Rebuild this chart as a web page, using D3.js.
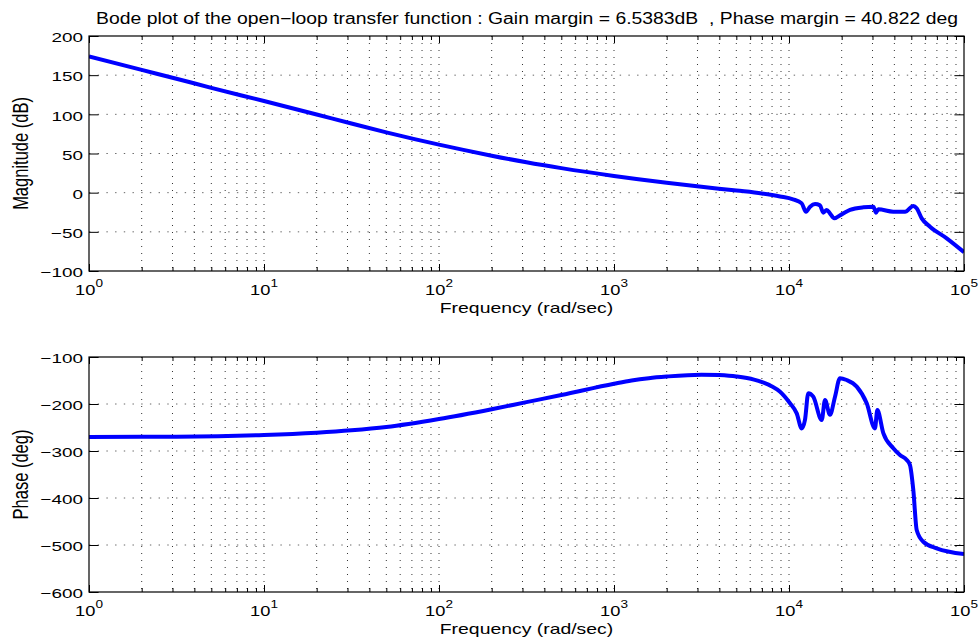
<!DOCTYPE html>
<html>
<head>
<meta charset="utf-8">
<script src="https://cdn.jsdelivr.net/npm/d3@7"></script>
<style>
  body { margin: 0; background: #fff; }
  svg { display: block; font-family: "Liberation Sans", Arial, Helvetica, sans-serif; }
  text { white-space: pre; fill: #000; }
</style>
</head>
<body>
<svg id="chart" width="980" height="642"></svg>
<script>
// frequency grid (rad/sec) and values
const magFreq = [1, 2, 3.16, 5, 10, 20, 31.6, 50, 100, 200, 316, 500, 1000, 2000, 3160,
  5010, 7000, 8890, 10540, 11820, 12510, 13200, 14080, 15030, 15700, 16420, 17130, 18140,
  20000, 22320, 26610, 30350, 31430, 32380, 39440, 46030, 51330, 53660, 57330, 63940,
  79640, 100000];
const magDb = [174, 156.7, 145.5, 133.8, 117, 99.8, 88.3, 77, 61.3, 47.2, 38.8, 31.3, 21.3,
  12.6, 7.5, 2.7, -1, -4.8, -8.5, -13.7, -24.4, -18, -14.6, -16.2, -25.6, -22, -26.4,
  -32.8, -27.7, -22, -18.7, -18, -25.6, -21.3, -24.4, -24.4, -17, -20, -32.8, -43.5,
  -58.3, -76];

const phaseFreq = [1, 3.16, 10, 20, 31.6, 50, 100, 200, 316, 500, 1000, 1260, 1580, 2000,
  3160, 3980, 5010, 6310, 7080, 7940, 8890, 10130, 11070, 11820, 12340, 12890, 13760, 15380,
  16060, 17140, 18320, 19550, 21360, 24380, 27800, 30990, 31970, 34590, 39440, 43060,
  47080, 49130, 51330, 53660, 58510, 69790, 100000];
const phaseDeg = [-270, -269.5, -266, -261, -256, -249, -232, -211, -196, -181, -157,
  -150, -145, -141.5, -137.5, -138.5, -141.5, -148, -154, -162, -174, -198.5, -220, -252,
  -234, -177, -184.5, -234, -191.5, -223, -184.5, -145, -149, -163, -198.5, -252, -213,
  -262, -294, -308.5, -319, -330, -383, -468, -493, -507, -519];

const freqTicks = [1, 10, 100, 1000, 10000, 100000];
const magTicks = [-100, -50, 0, 50, 100, 150, 200];
const phaseTicks = [-600, -500, -400, -300, -200, -100];

const titleText = "Bode plot of the open\u2212loop transfer function : Gain margin = 6.5383dB  , Phase margin = 40.822 deg";
const xLabelText = "Frequency (rad/sec)";

// the source figure was stretched sideways, so text is widened to match
const SX = 1.4;

/** One of the two stacked Bode axes. */
class BodePanel {
    constructor(svg, id, top, bottom, yDomain, yTicks, yLabel) {
        this.id = id;
        this.top = top;
        this.bottom = bottom;
        this.yTicks = yTicks;
        this.yLabel = yLabel;
        this.x = d3.scaleLog().domain([1, 1e5]).range([89, 964]);
        this.y = d3.scaleLinear().domain(yDomain).range([bottom, top]);
        this.g = svg.append("g");
    }

    drawGrid() {
        const x = this.x, y = this.y;
        const inner = x.ticks().filter(d => d > 1 && d < 1e5);

        this.g.append("g").selectAll("line")
            .data(inner)
            .join("line")
            .attr("x1", d => x(d)).attr("x2", d => x(d))
            .attr("y1", this.top).attr("y2", this.bottom)
            .attr("stroke", "#333")
            .attr("stroke-dasharray", "1,6");

        this.g.append("g").selectAll("line")
            .data(this.yTicks.slice(1, -1))
            .join("line")
            .attr("x1", x.range()[0]).attr("x2", x.range()[1])
            .attr("y1", d => y(d)).attr("y2", d => y(d))
            .attr("stroke", "#666")
            .attr("stroke-dasharray", "1.4,7.3");
    }

    drawAxes() {
        const x = this.x, y = this.y;
        const minor = x.ticks().filter(d => !freqTicks.includes(d));
        const noDomain = g => g.select(".domain").remove();

        // inward ticks on all four sides
        [[d3.axisBottom, this.bottom], [d3.axisTop, this.top]].forEach(([ax, pos]) => {
            this.g.append("g").attr("transform", `translate(0,${pos})`)
                .call(ax(x).tickValues(minor).tickSize(-4).tickFormat("")).call(noDomain);
            this.g.append("g").attr("transform", `translate(0,${pos})`)
                .call(ax(x).tickValues(freqTicks).tickSize(-7).tickFormat("")).call(noDomain);
        });

        this.g.append("g").attr("transform", `translate(${x.range()[1]},0)`)
            .call(d3.axisRight(y).tickValues(this.yTicks).tickSize(-9.6).tickFormat(""))
            .call(noDomain);

        const left = this.g.append("g").attr("transform", `translate(${x.range()[0]},0)`)
            .call(d3.axisLeft(y).tickValues(this.yTicks).tickSize(-9.6).tickFormat(d3.format("d")))
            .call(noDomain);
        left.selectAll("text")
            .attr("x", null).attr("dy", null)
            .attr("font-family", null)
            .attr("font-size", 13.5)
            .attr("fill", "#000")
            .attr("transform", `translate(-6,5.8) scale(${SX},1)`);
        this.g.selectAll(".tick line").attr("stroke", "#000");

        this.g.append("rect")
            .attr("x", x.range()[0]).attr("y", this.top)
            .attr("width", x.range()[1] - x.range()[0])
            .attr("height", this.bottom - this.top)
            .attr("fill", "none")
            .attr("stroke", "#000")
            .attr("stroke-width", 1.2);

        // 10^k labels
        const lab = this.g.append("g").selectAll("text")
            .data(freqTicks)
            .join("text")
            .attr("transform", d => `translate(${x(d)},${this.bottom + 24}) scale(1.18,1)`)
            .attr("text-anchor", "middle")
            .attr("font-size", 15.5);
        lab.append("tspan").text("10");
        lab.append("tspan")
            .attr("font-size", 11.5)
            .attr("dy", -8)
            .text(d => Math.round(Math.log10(d)));

        this.g.append("text")
            .attr("transform", `translate(${(x.range()[0] + x.range()[1]) / 2},${this.bottom + 42}) scale(1.26,1)`)
            .attr("text-anchor", "middle")
            .attr("font-size", 15.4)
            .text(xLabelText);

        this.g.append("text")
            .attr("transform", `translate(28,${(this.top + this.bottom) / 2}) scale(1.3,1) rotate(-90)`)
            .attr("text-anchor", "middle")
            .attr("font-size", 16.5)
            .text(this.yLabel);
    }

    drawCurve(freq, vals) {
        const x = this.x, y = this.y;
        this.g.append("clipPath").attr("id", "clip-" + this.id)
            .append("rect")
            .attr("x", x.range()[0]).attr("y", this.top)
            .attr("width", x.range()[1] - x.range()[0])
            .attr("height", this.bottom - this.top);

        const line = d3.line()
            .x(d => x(d[0]))
            .y(d => y(d[1]))
            .curve(d3.curveMonotoneX);

        this.g.append("path")
            .datum(d3.zip(freq, vals))
            .attr("clip-path", `url(#clip-${this.id})`)
            .attr("fill", "none")
            .attr("stroke", "#0000ff")
            .attr("stroke-width", 4)
            .attr("stroke-linejoin", "round")
            .attr("d", line);
    }
}

const svg = d3.select("#chart");

const mag = new BodePanel(svg, "mag", 36, 271, [-100, 200], magTicks, "Magnitude (dB)");
mag.drawGrid();
mag.drawCurve(magFreq, magDb);
mag.drawAxes();

const phase = new BodePanel(svg, "phase", 357, 592, [-600, -100], phaseTicks, "Phase (deg)");
phase.drawGrid();
phase.drawCurve(phaseFreq, phaseDeg);
phase.drawAxes();

// title, stretched to the width it spans in the figure
const title = svg.append("text")
    .attr("font-size", 15.8)
    .attr("text-anchor", "middle")
    .text(titleText);
const tw = title.node().getComputedTextLength();
title.attr("transform", `translate(527,24) scale(${862 / tw},1)`);
</script>
</body>
</html>
